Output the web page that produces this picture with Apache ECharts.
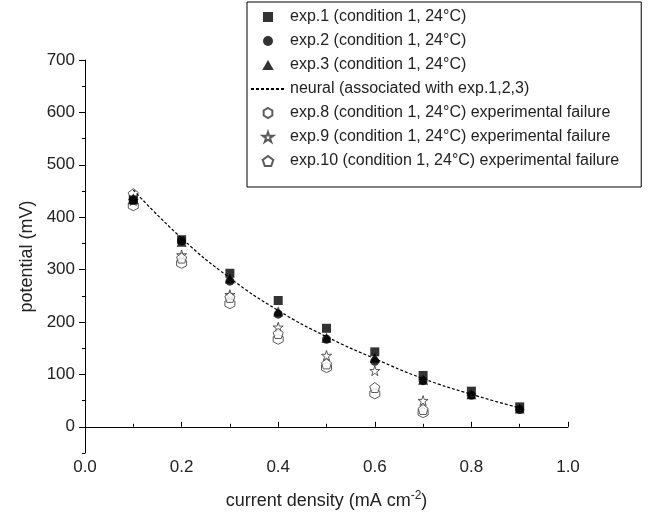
<!DOCTYPE html>
<html>
<head>
<meta charset="utf-8">
<script src="https://cdn.jsdelivr.net/npm/echarts@6/dist/echarts.min.js"></script>
<style>html,body{margin:0;padding:0;background:#fff}#c{width:648px;height:515px}</style>
</head>
<body>
<div id="c"></div>
<script>
const xFull = [0.1, 0.2, 0.3, 0.4, 0.5, 0.6, 0.7, 0.8, 0.9];
const xFail = [0.1, 0.2, 0.3, 0.4, 0.5, 0.6, 0.7];
const exp1 = [433, 357, 293, 241, 188, 143, 98, 68, 38];
const exp2 = [432, 355, 278, 215, 167, 125, 88, 60, 33];
const exp3 = [436, 353, 283, 220, 170, 132, 90, 62, 35];
const neural = [452, 360, 284, 222, 172, 130, 92, 62, 36];
const exp8 = [422, 312, 235, 167, 113, 63, 27];
const exp9 = [432, 328, 252, 190, 136, 107, 50];
const exp10 = [445, 322, 247, 178, 120, 75, 33];
const yMajor = [0, 100, 200, 300, 400, 500, 600, 700];
const names = [
  'exp.1 (condition 1, 24°C)',
  'exp.2 (condition 1, 24°C)',
  'exp.3 (condition 1, 24°C)',
  'neural (associated with exp.1,2,3)',
  'exp.8 (condition 1, 24°C) experimental failure',
  'exp.9 (condition 1, 24°C) experimental failure',
  'exp.10 (condition 1, 24°C) experimental failure'
];

const SQR = 'path://M0,0 L1,0 L1,1 L0,1 Z';
const TRI = 'path://M0,-1 L0.866,0.5 L-0.866,0.5 Z';
const HEX = 'path://M0,-1 L0.866,-0.5 L0.866,0.5 L0,1 L-0.866,0.5 L-0.866,-0.5 Z';
const STAR = 'path://M0,-1 L0.2245,-0.309 L0.951,-0.309 L0.363,0.118 L0.588,0.809 L0,0.382 L-0.588,0.809 L-0.363,0.118 L-0.951,-0.309 L-0.2245,-0.309 Z';
const PENT = 'path://M0,-1 L0.951,-0.309 L0.588,0.809 L-0.588,0.809 L-0.951,-0.309 Z';
const icons = [SQR, 'circle', TRI, null, HEX, STAR, PENT];

const zip = (xs, ys) => xs.map((x, i) => [x, ys[i]]);
const FONT = 'Liberation Sans';

function filled(name, data, symbol, size) {
  return { name, type: 'scatter', data: zip(xFull, data), symbol, symbolSize: size,
    itemStyle: { color: '#000' }, z: 5 };
}
function hollow(name, data, symbol, size) {
  return { name, type: 'scatter', data: zip(xFail, data), symbol, symbolSize: size,
    itemStyle: { color: '#fff', borderColor: '#333', borderWidth: 1 }, z: 4 };
}

const chart = echarts.init(document.getElementById('c'));
chart.setOption({
  animation: false,
  backgroundColor: '#fff',
  textStyle: { fontFamily: FONT },
  grid: { left: 85, right: 80, top: 60, bottom: 61, containLabel: false },
  legend: {
    orient: 'vertical', left: 247, top: 2,
    padding: [7, 22, 18, 3],
    itemWidth: 34, itemHeight: 10, itemGap: 8,
    borderColor: '#000', borderWidth: 1,
    textStyle: { fontFamily: FONT, fontSize: 16, color: '#222' },
    data: names.map((n, i) => icons[i]
      ? { name: n, icon: icons[i] }
      : { name: n, itemStyle: { opacity: 0 } })
  },
  xAxis: {
    type: 'value', min: 0, max: 1.0, interval: 0.2,
    axisLine: { lineStyle: { color: '#000', width: 1 } },
    axisTick: { inside: true, length: 5, lineStyle: { color: '#000' } },
    minorTick: { show: true, splitNumber: 2, length: 3, lineStyle: { color: '#000' } },
    splitLine: { show: false },
    axisLabel: { fontSize: 17, color: '#222', margin: 6, formatter: v => v.toFixed(1) },
    name: 'current density (mA cm{sup|-2})',
    nameLocation: 'middle', nameGap: 37,
    nameTextStyle: {
      fontSize: 18, color: '#222', fontFamily: FONT,
      rich: { sup: { fontSize: 12, fontFamily: FONT, color: '#222', padding: [0, 0, 10, 0] } }
    }
  },
  yAxis: [
    {
      type: 'value', min: -50, max: 700, interval: 50,
      axisLine: { show: true, lineStyle: { color: '#000', width: 1 } },
      axisTick: { show: true, length: 6, customValues: yMajor, lineStyle: { color: '#000' } },
      splitLine: { show: false },
      axisLabel: { fontSize: 17, color: '#222', margin: 10, customValues: yMajor },
      name: 'potential (mV)', nameLocation: 'middle', nameGap: 48,
      nameTextStyle: { fontSize: 18, color: '#222', fontFamily: FONT }
    },
    {
      type: 'value', min: -50, max: 700, interval: 50, position: 'left',
      axisLine: { show: false }, axisLabel: { show: false }, splitLine: { show: false },
      axisTick: { show: true, length: 3, lineStyle: { color: '#000' } }
    }
  ],
  series: [
    filled(names[0], exp1, SQR, 9),
    filled(names[1], exp2, 'circle', 9),
    filled(names[2], exp3, TRI, 10),
    { name: names[3], type: 'line', data: zip(xFull, neural), smooth: true,
      symbol: 'none', showSymbol: false,
      lineStyle: { color: '#000', width: 1.2, type: [3, 2] },
      itemStyle: { color: '#000' }, z: 6 },
    hollow(names[4], exp8, HEX, 10),
    hollow(names[5], exp9, STAR, 10),
    hollow(names[6], exp10, PENT, 10)
  ]
});
</script>
</body>
</html>
